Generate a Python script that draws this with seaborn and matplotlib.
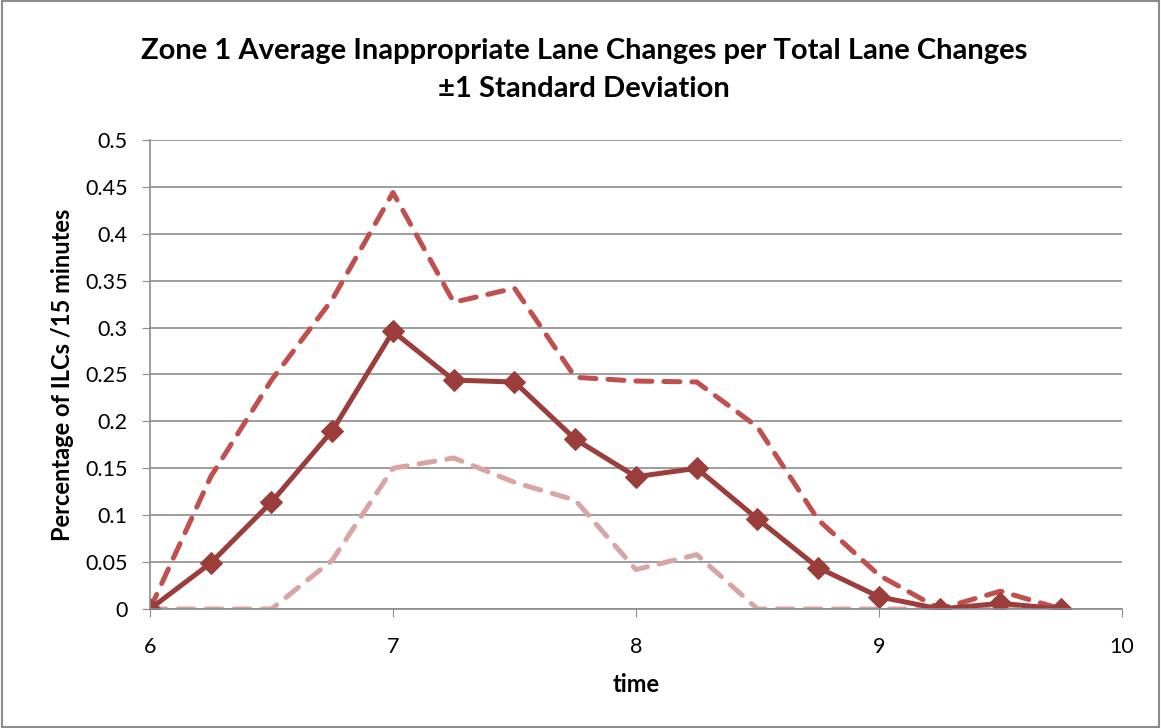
import numpy as np
import pandas as pd
import matplotlib.pyplot as plt
import seaborn as sns
from matplotlib.patches import Rectangle

time = [6, 6.25, 6.5, 6.75, 7, 7.25, 7.5, 7.75, 8, 8.25, 8.5, 8.75, 9, 9.25, 9.5, 9.75]
mean_ilc = [0, 0.049, 0.114, 0.19, 0.296, 0.244, 0.242, 0.181, 0.141, 0.150,
            0.096, 0.044, 0.013, 0, 0.006, 0]
upper_sd = [0, 0.141, 0.244, 0.33, 0.444, 0.327, 0.342, 0.247, 0.243, 0.242,
            0.194, 0.095, 0.036, 0, 0.019, 0]
lower_sd = [0, 0, 0, 0.052, 0.150, 0.161, 0.135, 0.116, 0.042, 0.058,
            0, 0, 0, 0, 0, 0]

df = pd.DataFrame({'time': time, 'mean': mean_ilc, 'upper': upper_sd, 'lower': lower_sd})

sns.set_style('white')
plt.rcParams['font.family'] = ['Lato', 'DejaVu Sans']
plt.rcParams['text.color'] = 'black'
plt.rcParams['axes.labelcolor'] = 'black'

fig = plt.figure(figsize=(11.61, 7.28), dpi=100)
ax = fig.add_axes([0.1292, 0.1635, 0.8372, 0.6442])

sns.lineplot(data=df, x='time', y='upper', ax=ax, color='#C0504D', linewidth=3.6,
             linestyle=(0, (3.2, 2.4)), dash_capstyle='round')
sns.lineplot(data=df, x='time', y='lower', ax=ax, color='#D9A5A4', linewidth=3.6,
             linestyle=(0, (3.2, 2.4)), dash_capstyle='round')
sns.lineplot(data=df, x='time', y='mean', ax=ax, color='#9B3D3A', linewidth=3.6,
             marker='D', markersize=11, markeredgecolor='#9B3D3A')

ax.set_xlim(6, 10)
ax.set_ylim(0, 0.5)
ax.set_xticks([6, 7, 8, 9, 10])
ax.set_xticklabels(['6', '7', '8', '9', '10'])
yt = np.arange(0, 0.501, 0.05)
ax.set_yticks(yt)
ax.set_yticklabels(['0', '0.05', '0.1', '0.15', '0.2', '0.25', '0.3', '0.35', '0.4', '0.45', '0.5'])
ax.yaxis.grid(True, color='#8C8C8C', linewidth=1.2)
ax.set_axisbelow(True)
for s in ['top', 'right']:
    ax.spines[s].set_visible(False)
for s in ['left', 'bottom']:
    ax.spines[s].set_color('#8C8C8C')
    ax.spines[s].set_linewidth(1.2)
ax.tick_params(axis='both', which='both', direction='out', length=6, color='#8C8C8C',
               labelcolor='black', labelsize=15.5, left=True, bottom=True)
ax.tick_params(axis='y', pad=10)
ax.tick_params(axis='x', pad=14)

ax.set_xlabel('time', fontsize=17, fontweight='bold', labelpad=12)
ax.set_ylabel('Percentage of ILCs /15 minutes', fontsize=17, fontweight='bold', labelpad=8)

fig.text(0.503, 0.93, 'Zone 1 Average Inappropriate Lane Changes per Total Lane Changes',
         ha='center', va='center', fontsize=21, fontweight='bold')
fig.text(0.503, 0.878, '\u00b11 Standard Deviation', ha='center', va='center',
         fontsize=21, fontweight='bold')

fig.patches.append(Rectangle((0.002, 0.002), 0.996, 0.996, transform=fig.transFigure,
                             fill=False, edgecolor='#8C8C8C', linewidth=1.5))

fig.savefig('out.png', dpi=100)
